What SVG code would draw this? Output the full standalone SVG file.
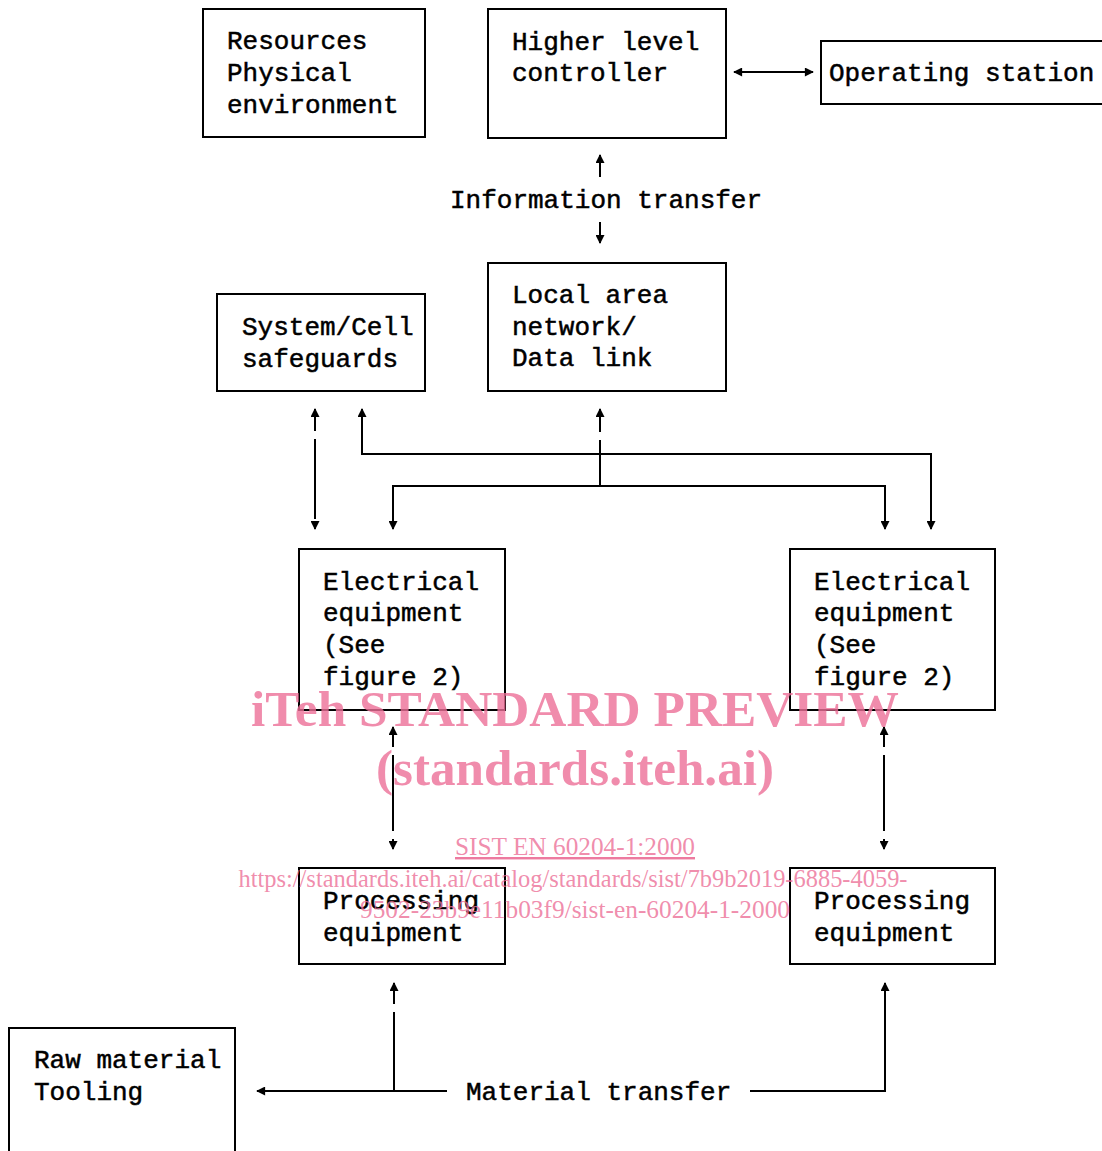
<svg xmlns="http://www.w3.org/2000/svg" width="1102" height="1151" viewBox="0 0 1102 1151">
<style>
.box{fill:none;stroke:#000;stroke-width:2}
.t{font-family:"Liberation Mono","DejaVu Sans Mono",monospace;font-size:26px;fill:#000;stroke:#000;stroke-width:0.5}
.c{fill:none;stroke:#000;stroke-width:2}
.wm{font-family:"Liberation Serif","Times New Roman",serif;fill:#ec6f97;fill-opacity:0.8}
</style>
<defs>
<marker id="ah" viewBox="0 0 10 10" refX="9" refY="5" markerWidth="12" markerHeight="9" markerUnits="userSpaceOnUse" orient="auto-start-reverse">
<path d="M0,0 L10,5 L0,10 Z" fill="#000"/>
</marker>
</defs>
<rect width="1102" height="1151" fill="#fff"/>
<g id="resources"><rect class="box" x="203" y="9" width="222" height="128"/>
<text class="t" x="227" y="49">Resources</text><text class="t" x="227" y="81">Physical</text><text class="t" x="227" y="113">environment</text></g>
<g id="higher-level-controller"><rect class="box" x="488" y="9" width="238" height="129"/>
<text class="t" x="512" y="50">Higher level</text><text class="t" x="512" y="81">controller</text></g>
<g id="operating-station"><rect class="box" x="821" y="41" width="290" height="63"/>
<text class="t" x="829" y="81">Operating station</text></g>
<g id="lan"><rect class="box" x="488" y="263" width="238" height="128"/>
<text class="t" x="512" y="303">Local area</text><text class="t" x="512" y="335">network/</text><text class="t" x="512" y="366">Data link</text></g>
<g id="safeguards"><rect class="box" x="217" y="294" width="208" height="97"/>
<text class="t" x="242" y="335">System/Cell</text><text class="t" x="242" y="367">safeguards</text></g>
<g id="electrical-left"><rect class="box" x="299" y="549" width="206" height="161"/>
<text class="t" x="323" y="590">Electrical</text><text class="t" x="323" y="621">equipment</text><text class="t" x="323" y="653">(See</text><text class="t" x="323" y="685">figure 2)</text></g>
<g id="electrical-right"><rect class="box" x="790" y="549" width="205" height="161"/>
<text class="t" x="814" y="590">Electrical</text><text class="t" x="814" y="621">equipment</text><text class="t" x="814" y="653">(See</text><text class="t" x="814" y="685">figure 2)</text></g>
<g id="processing-left"><rect class="box" x="299" y="868" width="206" height="96"/>
<text class="t" x="323" y="909">Processing</text><text class="t" x="323" y="941">equipment</text></g>
<g id="processing-right"><rect class="box" x="790" y="868" width="205" height="96"/>
<text class="t" x="814" y="909">Processing</text><text class="t" x="814" y="941">equipment</text></g>
<g id="raw-material"><path class="box" d="M9,1160 V1028 H235 V1160"/>
<text class="t" x="34" y="1068">Raw material</text><text class="t" x="34" y="1100">Tooling</text></g>
<g id="connectors">
<line class="c" x1="734" y1="72" x2="813" y2="72" marker-start="url(#ah)" marker-end="url(#ah)"/>
<line class="c" x1="600" y1="177" x2="600" y2="155" marker-end="url(#ah)"/>
<text class="t" x="450" y="208">Information transfer</text>
<line class="c" x1="600" y1="222" x2="600" y2="243" marker-end="url(#ah)"/>
<line class="c" x1="315" y1="409" x2="315" y2="529" stroke-dasharray="22,8,80,8" marker-start="url(#ah)" marker-end="url(#ah)"/>
<polyline class="c" points="362,409 362,454 931,454 931,529" marker-start="url(#ah)" marker-end="url(#ah)"/>
<line class="c" x1="600" y1="432" x2="600" y2="409" marker-end="url(#ah)"/>
<line class="c" x1="600" y1="440" x2="600" y2="486"/>
<polyline class="c" points="393,529 393,486 885,486 885,529" marker-start="url(#ah)" marker-end="url(#ah)"/>
<line class="c" x1="393" y1="727" x2="393" y2="849" stroke-dasharray="20,8,76,8" marker-start="url(#ah)" marker-end="url(#ah)"/>
<line class="c" x1="884" y1="727" x2="884" y2="849" stroke-dasharray="20,8,76,8" marker-start="url(#ah)" marker-end="url(#ah)"/>
<line class="c" x1="394" y1="1004" x2="394" y2="983" marker-end="url(#ah)"/>
<polyline class="c" points="394,1012 394,1091"/>
<line class="c" x1="447" y1="1091" x2="257" y2="1091" marker-end="url(#ah)"/>
<text class="t" x="466" y="1100">Material transfer</text>
<polyline class="c" points="750,1091 885,1091 885,983" marker-end="url(#ah)"/>
</g>
<g id="watermark">
<text class="wm" x="575" y="726" text-anchor="middle" font-size="50" font-weight="bold" textLength="648" lengthAdjust="spacingAndGlyphs">iTeh STANDARD PREVIEW</text>
<text class="wm" x="575" y="785" text-anchor="middle" font-size="50" font-weight="bold" textLength="398" lengthAdjust="spacingAndGlyphs">(standards.iteh.ai)</text>
<text class="wm" x="575" y="855" text-anchor="middle" font-size="25" text-decoration="underline" textLength="240" lengthAdjust="spacingAndGlyphs">SIST EN 60204-1:2000</text>
<line x1="455" y1="858" x2="695" y2="858" stroke="#ec6f97" stroke-opacity="0.8" stroke-width="1.5"/>
<text class="wm" x="573" y="887" text-anchor="middle" font-size="25" textLength="669" lengthAdjust="spacingAndGlyphs">https://standards.iteh.ai/catalog/standards/sist/7b9b2019-6885-4059-</text>
<text class="wm" x="575" y="918" text-anchor="middle" font-size="25" textLength="430" lengthAdjust="spacingAndGlyphs">9502-23b9e11b03f9/sist-en-60204-1-2000</text>
</g>
</svg>
